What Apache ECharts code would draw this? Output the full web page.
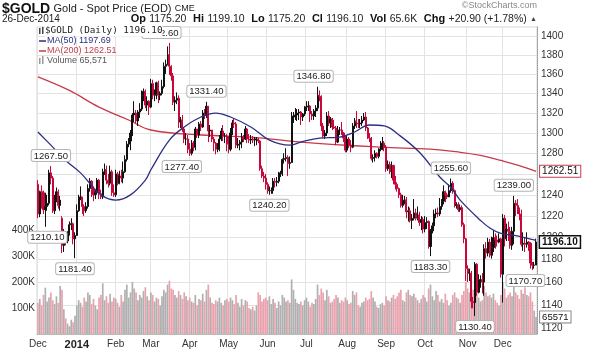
<!DOCTYPE html>
<html><head><meta charset="utf-8">
<script src="https://cdn.jsdelivr.net/npm/echarts@6/dist/echarts.min.js"></script>
<style>html,body{margin:0;padding:0;background:#fff}#c{width:589px;height:355px}</style>
</head><body><div id="c"></div>
<script>
// ---------- DATA ----------
// rows: [dayOfMonth, open, high, low, close]
const ohlcDec13 = [[2,1250,1254,1218,1222],[3,1222,1244,1219,1243],[4,1243,1249,1227,1242],[5,1242,1244,1222,1226],[6,1226,1242,1210.1,1229],[9,1229,1240,1225,1232],[10,1232,1264,1230,1261],[11,1261,1267.5,1250,1256],[12,1256,1258,1223,1225],[13,1225,1240,1222,1235],[16,1235,1247,1233,1243],[17,1243,1245,1227,1230],[18,1230,1239,1225,1235],[19,1218,1220,1186,1193],[20,1193,1208,1187,1203],[23,1203,1205,1193,1197],[24,1197,1206,1195,1204],[26,1204,1215,1202,1212],[27,1212,1218,1207,1213],[30,1213,1214,1194,1199],[31,1199,1205,1181.4,1202]];
const ohlcJan14 = [[2,1202,1231,1202,1225],[3,1225,1240,1224,1237],[6,1237,1248,1235,1238],[7,1238,1238,1222,1229],[8,1229,1231,1220,1225],[9,1225,1233,1223,1229],[10,1229,1250,1227,1246],[13,1246,1256,1243,1253],[14,1253,1254,1238,1245],[15,1245,1248,1234,1240],[16,1240,1245,1236,1242],[17,1242,1256,1240,1254],[21,1254,1255,1236,1241],[22,1241,1245,1236,1238],[23,1238,1265,1236,1262],[24,1262,1270,1259,1264],[27,1264,1268,1250,1254],[28,1254,1260,1247,1251],[29,1251,1268,1249,1262],[30,1262,1264,1239,1242],[31,1242,1250,1238,1240]];
const ohlcFeb14 = [[3,1240,1264,1238,1260],[4,1260,1262,1249,1251],[5,1251,1263,1250,1258],[6,1258,1264,1252,1256],[7,1256,1272,1251,1262],[10,1262,1278,1261,1274],[11,1274,1292,1272,1289],[12,1289,1295,1286,1292],[13,1292,1303,1283,1300],[14,1300,1320,1297,1318],[18,1318,1332,1311,1320],[19,1320,1323,1310,1312],[20,1312,1323,1307,1321],[21,1321,1330,1315,1324],[24,1324,1343,1322,1338],[25,1338,1345,1332,1342],[26,1342,1344,1325,1328],[27,1328,1337,1322,1332],[28,1332,1333,1318,1326]];
const ohlcMar14 = [[3,1326,1355,1325,1350],[4,1350,1354,1334,1338],[5,1338,1344,1332,1339],[6,1339,1352,1334,1351],[7,1351,1353,1330,1338],[10,1338,1342,1333,1340],[11,1340,1354,1338,1347],[12,1347,1372,1345,1368],[13,1368,1375,1360,1370],[14,1370,1389,1369,1380],[17,1380,1392.6,1359,1368],[18,1368,1369,1353,1358],[19,1358,1361,1328,1331],[20,1331,1337,1322,1333],[21,1333,1341,1329,1335],[24,1335,1338,1305,1311],[25,1311,1316,1305,1313],[26,1313,1318,1301,1304],[27,1304,1305,1290,1294],[28,1294,1300,1288,1294],[31,1294,1298,1280,1284]];
const ohlcApr14 = [[1,1284,1290,1277.4,1280],[2,1280,1293,1278,1290],[3,1290,1292,1282,1286],[4,1286,1306,1283,1304],[7,1304,1304,1295,1298],[8,1298,1311,1295,1309],[9,1309,1312,1302,1306],[10,1306,1323,1305,1320],[11,1320,1324,1314,1318],[14,1318,1331.4,1315,1327],[15,1327,1327,1291,1302],[16,1302,1308,1296,1303],[17,1303,1303,1291,1294],[21,1294,1296,1282,1290],[22,1290,1291,1279,1284],[23,1284,1290,1281,1284],[24,1284,1298,1282,1294],[25,1294,1305,1292,1302],[28,1302,1308,1292,1297],[29,1297,1300,1290,1297],[30,1297,1299,1282,1289]];
const ohlcMay14 = [[1,1289,1297,1280,1284],[2,1284,1305,1282,1300],[5,1300,1313,1298,1310],[6,1310,1315,1305,1309],[7,1309,1311,1285,1288],[8,1288,1295,1285,1289],[9,1289,1293,1283,1291],[12,1291,1300,1285,1296],[13,1296,1298,1291,1294],[14,1294,1307,1293,1304],[15,1304,1305,1290,1294],[16,1294,1299,1290,1293],[19,1293,1298,1289,1294],[20,1294,1297,1290,1293],[21,1293,1296,1287,1294],[22,1294,1296,1288,1294],[23,1294,1295,1290,1292],[27,1292,1293,1263,1265],[28,1265,1268,1256,1258],[29,1258,1262,1252,1256],[30,1256,1260,1245,1250]];
const ohlcJun14 = [[2,1250,1252,1241,1244],[3,1244,1248,1240.2,1244],[4,1244,1247,1241,1244],[5,1244,1256,1241,1253],[6,1253,1256,1247,1252],[9,1252,1257,1248,1253],[10,1253,1262,1251,1260],[11,1260,1263,1257,1261],[12,1261,1275,1258,1274],[13,1274,1280,1270,1275],[16,1275,1285,1272,1276],[17,1276,1278,1258,1270],[18,1270,1277,1265,1271],[19,1271,1321,1271,1316],[20,1316,1321,1310,1317],[23,1317,1325,1313,1318],[24,1318,1324,1312,1320],[25,1320,1324,1313,1321],[26,1321,1322,1308,1316],[27,1316,1320,1312,1319],[30,1319,1327,1317,1326]];
const ohlcJul14 = [[1,1326,1332,1322,1326],[2,1326,1332,1322,1327],[3,1327,1328,1311,1319],[7,1319,1322,1313,1317],[8,1317,1324,1313,1322],[9,1322,1328,1316,1325],[10,1325,1346.8,1322,1338],[11,1338,1343,1332,1337],[14,1337,1338,1302,1307],[15,1307,1310,1295,1297],[16,1297,1303,1294,1300],[17,1300,1321,1297,1317],[18,1317,1322,1307,1310],[21,1310,1316,1305,1314],[22,1314,1315,1303,1306],[23,1306,1313,1304,1305],[24,1305,1307,1288,1291],[25,1291,1307,1290,1303],[28,1303,1306,1298,1303],[29,1303,1311,1298,1300],[30,1300,1301,1291,1295],[31,1295,1298,1281,1283]];
const ohlcAug14 = [[1,1283,1297,1281,1294],[4,1294,1296,1285,1288],[5,1288,1293,1281,1286],[6,1286,1310,1285,1307],[7,1307,1315,1304,1312],[8,1312,1322,1305,1310],[11,1310,1314,1305,1309],[12,1309,1314,1305,1310],[13,1310,1317,1307,1313],[14,1313,1320,1312,1316],[15,1316,1321,1302,1305],[18,1305,1306,1294,1298],[19,1298,1300,1291,1295],[20,1295,1296,1273,1275],[21,1275,1279,1271,1276],[22,1276,1283,1272,1280],[25,1280,1281,1275,1277],[26,1277,1285,1275,1284],[27,1284,1292,1282,1284],[28,1284,1296,1283,1290],[29,1290,1292,1282,1286]];
const ohlcSep14 = [[2,1286,1288,1262,1265],[3,1265,1273,1263,1269],[4,1269,1272,1260,1262],[5,1262,1272,1256,1268],[8,1268,1269,1250,1254],[9,1254,1258,1245,1250],[10,1250,1252,1243,1246],[11,1246,1247,1237,1240],[12,1240,1242,1228,1230],[15,1230,1240,1228,1235],[16,1235,1239,1231,1235],[17,1235,1238,1218,1224],[18,1224,1229,1215,1225],[19,1225,1228,1214,1216],[22,1216,1222,1208,1218],[23,1218,1236,1216,1223],[24,1223,1227,1216,1218],[25,1218,1229,1216,1221],[26,1221,1224,1211,1214],[29,1214,1220,1207,1217],[30,1217,1219,1204,1208]];
const ohlcOct14 = [[1,1208,1220,1205,1214],[2,1214,1219,1208,1215],[3,1215,1216,1190,1192],[6,1192,1208,1183.3,1207],[7,1207,1214,1204,1211],[8,1211,1226,1206,1222],[9,1222,1227,1218,1223],[10,1223,1228,1219,1222],[13,1222,1237,1220,1229],[14,1229,1236,1226,1234],[15,1234,1249,1231,1243],[16,1243,1244,1233,1240],[17,1240,1242,1236,1238],[20,1238,1250,1238,1244],[21,1244,1255.6,1242,1251],[22,1251,1253,1241,1244],[23,1244,1245,1228,1230],[24,1230,1233,1227,1231],[27,1231,1233,1224,1226],[28,1226,1231,1224,1228],[29,1228,1230,1210,1212],[30,1212,1214,1195,1199],[31,1199,1200,1161,1172]];
const ohlcNov14 = [[3,1172,1175,1160,1168],[4,1168,1172,1161,1168],[5,1168,1170,1137,1143],[6,1143,1147,1137,1142],[7,1142,1178,1130.4,1176],[10,1176,1177,1148,1151],[11,1151,1167,1150,1162],[12,1162,1166,1155,1162],[13,1162,1168,1150,1160],[14,1160,1194,1148,1190],[17,1190,1196,1181,1186],[18,1186,1200,1183,1196],[19,1196,1199,1182,1184],[20,1184,1201,1181,1191],[21,1191,1207,1187,1200],[24,1200,1204,1190,1198],[25,1198,1202,1192,1196],[26,1196,1204,1195,1199],[28,1199,1200,1164,1167]];
const ohlcDec14 = [[1,1167,1222,1142,1218],[2,1218,1221,1192,1199],[3,1199,1213,1197,1208],[4,1208,1215,1197,1206],[5,1206,1210,1190,1193],[8,1193,1210,1189,1206],[9,1206,1239,1194,1232],[10,1232,1235,1220,1230],[11,1230,1236,1222,1226],[12,1226,1228,1216,1222],[15,1222,1226,1192,1194],[16,1194,1205,1188,1195],[17,1195,1200,1187,1194],[18,1194,1205,1191,1196],[19,1196,1197,1188,1195],[22,1195,1196,1172,1177],[23,1177,1178,1170.7,1175],[24,1175,1178,1172,1175.2],[26,1175.2,1199.1,1175.2,1196.1]];

// daily volume, thousands
const volDec13 = [120,135,110,150,178,125,140,160,130,115,145,120,185,170,95,60,40,30,55,45,70];
const volJan14 = [110,130,120,105,140,125,160,150,115,135,110,95,140,150,195,130,145,120,155,125,140];
const volFeb14 = [135,120,105,150,125,170,190,140,160,200,175,160,130,150,140,165,180,145,130];
const volMar14 = [160,150,125,140,135,110,145,170,160,190,205,175,170,150,140,165,150,135,160,145,130];
const volApr14 = [140,125,120,150,110,135,130,155,125,170,190,140,120,115,130,125,140,120,110,130,135];
const volMay14 = [125,140,130,115,150,120,105,135,110,130,125,100,95,105,90,110,160,150,125,135,140];
const volJun14 = [130,145,115,135,120,100,125,110,150,140,125,130,120,210,170,135,120,115,125,110,130];
const volJul14 = [140,125,105,120,115,135,190,150,175,160,130,170,145,120,125,135,150,140,120,130,125,140];
const volAug14 = [130,115,120,165,150,160,110,105,120,125,140,130,135,165,140,125,105,100,115,120,110];
const volSep14 = [145,130,125,140,150,135,145,160,170,130,125,160,170,150,145,155,140,130,120,135,150];
const volOct14 = [140,125,175,190,145,130,165,150,125,135,120,155,130,110,120,150,160,140,135,120,150,165,200];
const volNov14 = [175,160,195,170,210,155,140,125,130,185,160,145,150,140,155,130,120,110,150];
const volDec14 = [200,175,140,150,160,145,190,160,150,135,170,155,180,150,145,160,125,90,65.571];

// month blocks: [year-month, axis label]
const monthKeys = ['2013-12','2014-01','2014-02','2014-03','2014-04','2014-05','2014-06','2014-07','2014-08','2014-09','2014-10','2014-11','2014-12'];
const monthLabels = ['Dec','2014','Feb','Mar','Apr','May','Jun','Jul','Aug','Sep','Oct','Nov','Dec'];
const ohlcByMonth = [ohlcDec13,ohlcJan14,ohlcFeb14,ohlcMar14,ohlcApr14,ohlcMay14,ohlcJun14,ohlcJul14,ohlcAug14,ohlcSep14,ohlcOct14,ohlcNov14,ohlcDec14];
const volByMonth = [volDec13,volJan14,volFeb14,volMar14,volApr14,volMay14,volJun14,volJul14,volAug14,volSep14,volOct14,volNov14,volDec14];

// moving averages: [date, value]
const ma50Pts = [['2013-12-02',1301],['2013-12-11',1288],['2013-12-23',1273],['2014-01-06',1261],['2014-01-13',1251],['2014-01-22',1240],['2014-02-03',1235],['2014-02-13',1240],['2014-02-26',1254],['2014-03-03',1264],['2014-03-17',1293],['2014-03-27',1306],['2014-04-09',1316],['2014-04-22',1320],['2014-05-02',1316],['2014-05-19',1306],['2014-06-03',1293],['2014-06-18',1288],['2014-06-26',1291],['2014-07-11',1295],['2014-07-28',1296],['2014-08-07',1301],['2014-08-19',1308],['2014-08-29',1307],['2014-09-11',1298],['2014-09-26',1281],['2014-10-13',1257],['2014-10-21',1247],['2014-10-28',1235],['2014-11-12',1216],['2014-11-19',1209],['2014-11-28',1204],['2014-12-10',1202],['2014-12-17',1200],['2014-12-26',1197.69]];
const ma200Pts = [['2013-12-02',1357],['2013-12-26',1343],['2014-01-21',1326],['2014-02-12',1313],['2014-03-03',1303],['2014-04-09',1298],['2014-05-19',1296],['2014-06-26',1291],['2014-08-27',1286],['2014-10-06',1284],['2014-10-28',1281],['2014-11-12',1278],['2014-11-28',1273],['2014-12-12',1268],['2014-12-26',1262.51]];

// annotated highs / lows: [date, price, kind]
const annotations = [['2013-12-11',1267.50,'high'],['2013-12-06',1210.10,'low'],['2013-12-31',1181.40,'low'],['2014-03-17',1392.60,'high'],['2014-04-14',1331.40,'high'],['2014-04-01',1277.40,'low'],['2014-06-03',1240.20,'low'],['2014-07-10',1346.80,'high'],['2014-10-06',1183.30,'low'],['2014-10-21',1255.60,'high'],['2014-11-07',1130.40,'low'],['2014-12-09',1239.00,'high'],['2014-12-23',1170.70,'low']];

const priceTicks = [1120,1140,1160,1180,1200,1220,1240,1260,1280,1300,1320,1340,1360,1380,1400];
const volTicks = [100,200,300,400];
const lastClose = 1196.10, lastMA50 = 1197.69, lastMA200 = 1262.51, lastVol = 65.571;

// ---------- BUILD ----------
const L = Math.log;
const cats = [], candleData = [], volData = [], monthStart = {};
let prevClose = null;
const UP = '#111111', DN = '#c8083a', VUP = '#b0b0b0', VDN = '#eaa3ae';
ohlcByMonth.forEach((rows, mi) => {
  rows.forEach((r, i) => {
    const idx = cats.length;
    if (i === 0) monthStart[idx] = monthLabels[mi];
    cats.push(monthKeys[mi] + '-' + String(r[0]).padStart(2, '0'));
    const [d, o, h, l, c] = r;
    const ref = prevClose === null ? o : prevClose;
    const col = c >= ref ? UP : DN;
    candleData.push({ value: [L(o), L(c), L(l), L(h)], itemStyle: { color: col, color0: col, borderColor: col, borderColor0: col } });
    volData.push({ value: volByMonth[mi][i], itemStyle: { color: c >= ref ? VUP : VDN } });
    prevClose = c;
  });
});
const idxOf = d => cats.indexOf(d);
const ma50Data = ma50Pts.map(p => [idxOf(p[0]), L(p[1])]);
const ma200Data = ma200Pts.map(p => [idxOf(p[0]), L(p[1])]);
const lastIdx = cats.length - 1;

const FONT = 'Liberation Sans';
const annShift = { '1392.60': -8, '1277.40': -8, '1346.80': -4, '1170.70': -7, '1210.10': 2 };
const annPoints = annotations.map(([d, v, k]) => {
  const t = v.toFixed(2);
  return {
    coord: [idxOf(d), L(v)], symbolSize: 0.1,
    label: { show: true, formatter: t, position: k === 'high' ? 'top' : 'bottom', distance: 5,
      offset: [annShift[t] || 0, 0],
      fontSize: 9.5, fontFamily: FONT, color: '#222', backgroundColor: '#fff',
      borderColor: '#b5b5b5', borderWidth: 1, borderRadius: 2, padding: [1, 2, 0, 2] }
  };
});
const tag = (border, bold, bw) => ({ show: true, position: 'right', distance: 4, color: '#111', fontSize: 10, fontFamily: FONT,
  fontWeight: bold ? 'bold' : 'normal', backgroundColor: '#fff', borderColor: border, borderWidth: bw, padding: [1, 2, 0, 2] });

const option = {
  animation: false,
  grid: { left: 37, right: 52, top: 27, bottom: 21, show: true, borderColor: '#d6d6d6', borderWidth: 1 },
  xAxis: {
    type: 'category', data: cats, boundaryGap: true,
    axisLine: { show: true, lineStyle: { color: '#bbb' } }, axisTick: { show: false },
    axisLabel: { interval: i => i in monthStart, formatter: (v, i) => monthStart[i] === '2014' ? '{b|2014}' : monthStart[i],
      color: '#333', fontSize: 10, fontFamily: FONT, margin: 5, rich: { b: { fontWeight: 'bold', fontSize: 11, color: '#222', fontFamily: FONT } } },
    splitLine: { show: true, interval: i => i in monthStart, lineStyle: { color: '#e3e3e3', width: 1 } }
  },
  yAxis: [
    { type: 'value', position: 'right', min: L(1114.9), max: L(1409.7), scale: true,
      axisLine: { show: true, lineStyle: { color: '#999', type: 'dotted' } },
      axisTick: { show: false, customValues: priceTicks.map(L) },
      axisLabel: { customValues: priceTicks.map(L), formatter: v => String(Math.round(Math.exp(v))), color: '#333', fontSize: 10, fontFamily: FONT, margin: 4 },
      splitLine: { show: true, lineStyle: { color: '#e3e3e3', width: 1 } } },
    { type: 'value', position: 'left', min: 0, max: 1180.8,
      axisLine: { show: false }, axisTick: { show: false }, splitLine: { show: false },
      axisLabel: { customValues: volTicks, formatter: v => v + 'K', color: '#333', fontSize: 10, fontFamily: FONT, margin: 2 } }
  ],
  series: [
    { type: 'bar', name: 'Volume', yAxisIndex: 1, data: volData, barCategoryGap: '8%', z: 1,
      markPoint: { symbolSize: 0.1, itemStyle: { color: 'transparent' }, data: [{ coord: [lastIdx, lastVol], label: Object.assign(tag('#888', false, 1), { formatter: '65571', fontSize: 9.5 }) }] } },
    { type: 'line', name: 'MA(200)', data: ma200Data, showSymbol: false, smooth: 0.4, z: 3,
      lineStyle: { color: '#c83a4c', width: 1.3 },
      markPoint: { symbolSize: 0.1, itemStyle: { color: 'transparent' }, data: [{ coord: [lastIdx, L(lastMA200)], label: Object.assign(tag('#c83a4c', false, 1), { formatter: lastMA200.toFixed(2) }) }] } },
    { type: 'line', name: 'MA(50)', data: ma50Data, showSymbol: false, smooth: 0.4, z: 4,
      lineStyle: { color: '#2c2f80', width: 1.3 } },
    { type: 'candlestick', name: '$GOLD', data: candleData, barWidth: '85%', z: 3,
      markPoint: { symbolSize: 0.1, itemStyle: { color: 'transparent' }, z: 5,
        data: annPoints.concat([{ coord: [lastIdx, L(lastClose)], symbolSize: 0.1, label: Object.assign(tag('#111', true, 1.5), { formatter: lastClose.toFixed(2) }) }]) } }
  ],
  graphic: [
    { type: 'text', z: 100, style: { x: 2, y: 9, verticalAlign: 'middle', text: '{a|$GOLD} {b|Gold - Spot Price (EOD)} {c|CME}',
      rich: { a: { fontSize: 14, fontWeight: 'bold', fontFamily: FONT, fill: '#111' }, b: { fontSize: 11, fontFamily: FONT, fill: '#222' }, c: { fontSize: 9, fontFamily: FONT, fill: '#222' } } } },
    { type: 'text', z: 100, style: { x: 2, y: 19, verticalAlign: 'middle', text: '26-Dec-2014', font: '10px Liberation Sans', fill: '#222' } },
    { type: 'text', z: 100, style: { x: 537, y: 19, align: 'right', verticalAlign: 'middle',
      text: '{k|Op} {v|1175.20}  {k|Hi} {v|1199.10}  {k|Lo} {v|1175.20}  {k|Cl} {v|1196.10}  {k|Vol} {v|65.6K}  {k|Chg} {v|+20.90 (+1.78%)} {t|▲}',
      rich: { k: { fontSize: 11, fontWeight: 'bold', fontFamily: FONT, fill: '#111' }, v: { fontSize: 10.5, fontFamily: FONT, fill: '#222' }, t: { fontSize: 7, fontFamily: FONT, fill: '#444' } } } },
    { type: 'text', z: 100, style: { x: 537, y: 6, align: 'right', verticalAlign: 'middle', text: '©StockCharts.com', font: '9px Liberation Sans', fill: '#888' } },
    // legend
    { type: 'rect', z: 100, shape: { x: 39, y: 28, width: 1.5, height: 6 }, style: { fill: '#444' } },
    { type: 'rect', z: 100, shape: { x: 42, y: 27, width: 1.5, height: 7 }, style: { fill: '#444' } },
    { type: 'text', z: 100, style: { x: 45, y: 31, verticalAlign: 'middle', text: '$GOLD (Daily) 1196.10', font: '9.3px DejaVu Sans Mono', fill: '#222', backgroundColor: '#fff', padding: [1, 0] } },
    { type: 'line', z: 100, shape: { x1: 39, y1: 41, x2: 46, y2: 41 }, style: { stroke: '#2c2f80', lineWidth: 1.5 } },
    { type: 'text', z: 100, style: { x: 47, y: 41, verticalAlign: 'middle', text: 'MA(50) 1197.69', font: '9px Liberation Sans', fill: '#2c2f80' } },
    { type: 'line', z: 100, shape: { x1: 39, y1: 51, x2: 46, y2: 51 }, style: { stroke: '#c83a4c', lineWidth: 1.5 } },
    { type: 'text', z: 100, style: { x: 47, y: 51, verticalAlign: 'middle', text: 'MA(200) 1262.51', font: '9px Liberation Sans', fill: '#c83a4c' } },
    { type: 'rect', z: 100, shape: { x: 39, y: 58, width: 1.5, height: 6 }, style: { fill: '#999' } },
    { type: 'rect', z: 100, shape: { x: 42, y: 56, width: 1.5, height: 8 }, style: { fill: '#999' } },
    { type: 'text', z: 100, style: { x: 47, y: 61, verticalAlign: 'middle', text: 'Volume 65,571', font: '9px Liberation Sans', fill: '#555' } }
  ]
};
const chart = echarts.init(document.getElementById('c'), null, { renderer: 'canvas' });
chart.setOption(option);
</script>
</body></html>
